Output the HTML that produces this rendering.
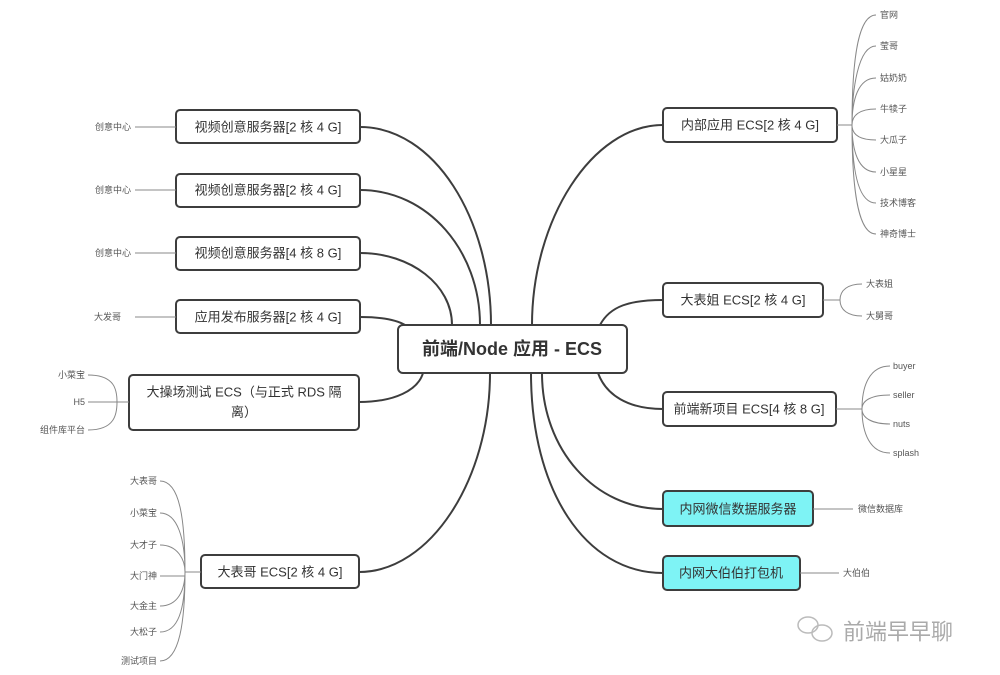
<!DOCTYPE html>
<html><head><meta charset="utf-8"><style>
body{margin:0;background:#fff;}
svg{display:block;font-family:"Liberation Sans","Noto Sans CJK SC",sans-serif;}
.b{fill:#fff;stroke:#3d3d3d;stroke-width:2;}
.c{fill:#7ef3f5;stroke:#3d3d3d;stroke-width:2;}
.l{fill:none;stroke:#3d3d3d;stroke-width:2;}
.t{fill:none;stroke:#888;stroke-width:1;}
.n{font-size:13px;fill:#333;text-anchor:middle;dominant-baseline:central;}
.s{font-size:9px;fill:#555;dominant-baseline:central;}
</style></head><body>
<svg width="1000" height="675" viewBox="0 0 1000 675">
<!-- main connectors (quarter-ellipse style) -->
<path class="l" d="M360 127 C434 127,491 218,491 325"/>
<path class="l" d="M360 190 C428 190,480 251,480 325"/>
<path class="l" d="M360 253 C411 253,452 285,452 325"/>
<path class="l" d="M360 317 C380 317,395 319,405 325"/>
<path class="l" d="M359 402 C395 402,418 390,423 373"/>
<path class="l" d="M359 572 C430 572,490 480,490 373"/>
<path class="l" d="M663 125 C592 125,532 220,532 325"/>
<path class="l" d="M663 300 C630 300,610 306,600 325"/>
<path class="l" d="M663 409 C628 409,606 395,598 373"/>
<path class="l" d="M663 509 C595 509,542 450,542 373"/>
<path class="l" d="M663 573 C585 573,531 490,531 373"/>
<!-- central -->
<rect class="b" x="398" y="325" width="229" height="48" rx="5"/>
<text class="n" x="512" y="349" style="font-size:18px;font-weight:bold">前端/Node 应用 - ECS</text>
<!-- left boxes -->
<rect class="b" x="176" y="110" width="184" height="33" rx="4"/><text class="n" x="268" y="127">视频创意服务器[2 核 4 G]</text>
<rect class="b" x="176" y="174" width="184" height="33" rx="4"/><text class="n" x="268" y="190">视频创意服务器[2 核 4 G]</text>
<rect class="b" x="176" y="237" width="184" height="33" rx="4"/><text class="n" x="268" y="253">视频创意服务器[4 核 8 G]</text>
<rect class="b" x="176" y="300" width="184" height="33" rx="4"/><text class="n" x="268" y="317">应用发布服务器[2 核 4 G]</text>
<rect class="b" x="129" y="375" width="230" height="55" rx="4"/><text class="n" x="244" y="392">大操场测试 ECS（与正式 RDS 隔</text><text class="n" x="244" y="412">离）</text>
<rect class="b" x="201" y="555" width="158" height="33" rx="4"/><text class="n" x="280" y="572">大表哥 ECS[2 核 4 G]</text>
<!-- right boxes -->
<rect class="b" x="663" y="108" width="174" height="34" rx="4"/><text class="n" x="750" y="125">内部应用 ECS[2 核 4 G]</text>
<rect class="b" x="663" y="283" width="160" height="34" rx="4"/><text class="n" x="743" y="300">大表姐 ECS[2 核 4 G]</text>
<rect class="b" x="663" y="392" width="173" height="34" rx="4"/><text class="n" x="749" y="409">前端新项目 ECS[4 核 8 G]</text>
<rect class="c" x="663" y="491" width="150" height="35" rx="4"/><text class="n" x="738" y="509">内网微信数据服务器</text>
<rect class="c" x="663" y="556" width="137" height="34" rx="4"/><text class="n" x="731" y="573">内网大伯伯打包机</text>
<!-- left leaves -->
<path class="t" d="M135 127H176M135 190H176M135 253H176M135 317H176"/>
<text class="s" x="131" y="127" text-anchor="end">创意中心</text>
<text class="s" x="131" y="190" text-anchor="end">创意中心</text>
<text class="s" x="131" y="253" text-anchor="end">创意中心</text>
<text class="s" x="121" y="317" text-anchor="end">大发哥</text>
<path class="t" d="M129 402H117 M88 375 C115 375,117 390,117 402 C117 414,115 430,88 430 M88 402H117"/>
<text class="s" x="85" y="375" text-anchor="end">小菜宝</text>
<text class="s" x="85" y="402" text-anchor="end">H5</text>
<text class="s" x="85" y="430" text-anchor="end">组件库平台</text>
<path class="t" d="M201 572H185 M160 481 C180 481,185 520,185 572 C185 620,180 661,160 661 M160 513 C178 513,185 540,185 572 M160 545C178 545,185 560,185 572 M160 576H185 M160 606C178 606,185 590,185 572 M160 632C178 632,185 610,185 572"/>
<text class="s" x="157" y="481" text-anchor="end">大表哥</text>
<text class="s" x="157" y="513" text-anchor="end">小菜宝</text>
<text class="s" x="157" y="545" text-anchor="end">大才子</text>
<text class="s" x="157" y="576" text-anchor="end">大门神</text>
<text class="s" x="157" y="606" text-anchor="end">大金主</text>
<text class="s" x="157" y="632" text-anchor="end">大松子</text>
<text class="s" x="157" y="661" text-anchor="end">测试项目</text>
<!-- right leaves -->
<path class="t" d="M837 125H852 M876 15C858 15,852 60,852 125C852 190,858 234,876 234 M876 46C858 46,852 90,852 125 M876 78C858 78,852 100,852 125 M876 109C860 109,852 115,852 125 M876 140C860 140,852 135,852 125 M876 172C858 172,852 150,852 125 M876 203C858 203,852 170,852 125"/>
<text class="s" x="880" y="15">官网</text><text class="s" x="880" y="46">莹哥</text><text class="s" x="880" y="78">姑奶奶</text><text class="s" x="880" y="109">牛犊子</text><text class="s" x="880" y="140">大瓜子</text><text class="s" x="880" y="172">小星星</text><text class="s" x="880" y="203">技术博客</text><text class="s" x="880" y="234">神奇博士</text>
<path class="t" d="M823 300H840 M862 284C848 284,840 290,840 300C840 310,848 316,862 316"/>
<text class="s" x="866" y="284">大表姐</text><text class="s" x="866" y="316">大舅哥</text>
<path class="t" d="M836 409H862 M890 366C870 366,862 385,862 409C862 433,870 453,890 453 M890 395C872 395,862 400,862 409 M890 424C872 424,862 418,862 409"/>
<text class="s" x="893" y="366">buyer</text><text class="s" x="893" y="395">seller</text><text class="s" x="893" y="424">nuts</text><text class="s" x="893" y="453">splash</text>
<path class="t" d="M813 509H853 M800 573H839"/>
<text class="s" x="858" y="509">微信数据库</text><text class="s" x="843" y="573">大伯伯</text>
<!-- watermark -->
<g fill="none" stroke="#bbb" stroke-width="1.5"><ellipse cx="808" cy="625" rx="10" ry="8"/><ellipse cx="822" cy="633" rx="10" ry="8"/></g>
<text x="843" y="632" style="font-size:22px;fill:#aaa;dominant-baseline:central">前端早早聊</text>
</svg>
</body></html>
